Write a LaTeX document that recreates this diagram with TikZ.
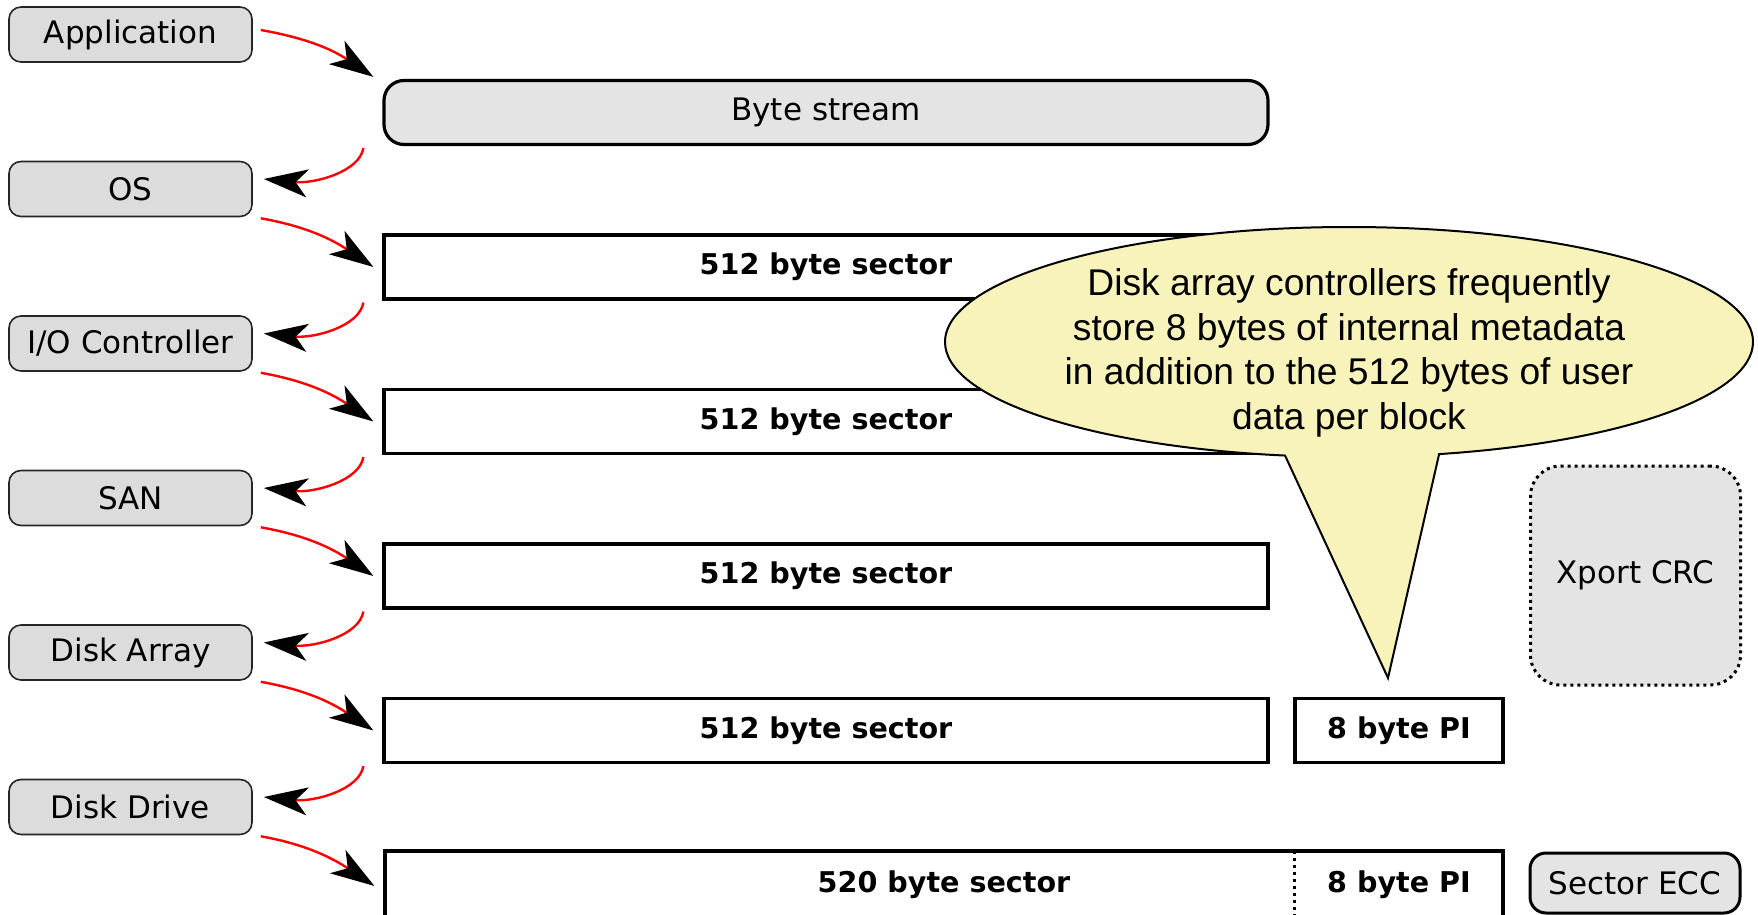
\documentclass[tikz,border=0pt]{standalone}
\usepackage{fontspec}
\setmainfont{DejaVu Sans}
\newfontfamily\notefont{Liberation Sans}
\usetikzlibrary{arrows.meta,shapes.callouts}

\definecolor{layergray}{RGB}{220,220,220}
\definecolor{streamgray}{RGB}{228,228,228}
\definecolor{noteyellow}{RGB}{248,243,186}

\begin{document}
\begin{tikzpicture}[x=0.5pt, y=-0.5pt,
    layer/.style={draw=black!85, line width=0.8pt, rounded corners=6pt, fill=layergray,
        minimum width=121.5pt, minimum height=27.5pt, inner sep=0pt,
        font=\fontsize{15.5}{18}\selectfont},
    sector/.style={draw, line width=1.6pt, fill=white, minimum width=442pt,
        minimum height=32pt, inner sep=0pt, font=\fontsize{14.3}{17}\selectfont\bfseries},
    stream/.style={sector, rounded corners=10pt, fill=streamgray,
        font=\fontsize{15.5}{18}\selectfont},
    pibox/.style={sector, minimum width=104pt},
    check/.style={draw, line width=1.5pt, fill=streamgray, minimum width=105pt,
        inner sep=0pt, font=\fontsize{15.5}{18}\selectfont},
    flow/.style={red, line width=1.2pt, -{Stealth[length=22pt, width=14pt, inset=6pt, color=black]}}]

    \useasboundingbox (0,0) rectangle (1758,915);
    \clip (0,0) rectangle (1758,915);

    \node[layer] (app) at (130.5,34.5) {Application};
    \node[layer] (os) at (130.5,189) {OS};
    \node[layer] (ioc) at (130.5,343.5) {I/O Controller};
    \node[layer] (san) at (130.5,498) {SAN};
    \node[layer] (darr) at (130.5,652.5) {Disk Array};
    \node[layer] (ddrv) at (130.5,807) {Disk Drive};

    \node[stream] (bytes) at (826,112.5) {Byte stream};
    \node[sector] (ossec) at (826,267) {512 byte sector};
    \node[sector] (iosec) at (826,421.5) {512 byte sector};
    \node[sector] (sansec) at (826,576) {512 byte sector};
    \node[sector] (dasec) at (826,730.5) {512 byte sector};
    \node[pibox] (dapi) at (1399,730.5) {8 byte PI};
    \node[sector, minimum width=559pt, minimum height=34pt] (ddsec) at (944,885) {520 byte sector};
    \node[font=\fontsize{14.3}{17}\selectfont\bfseries, minimum width=104pt, minimum height=34pt,
        inner sep=0pt] (ddpi) at (1399,885) {8 byte PI};
    \draw[dotted, line width=1.5pt] (ddpi.north west) -- (ddpi.south west);

    \node[check, dotted, rounded corners=15pt, minimum height=109.5pt] (xport) at (1635.5,575.5) {Xport CRC};
    \node[check, rounded corners=8pt, minimum height=30pt] (ecc) at (1635,883) {Sector ECC};

    \node[ellipse callout, draw, line width=1pt, fill=noteyellow, minimum width=404pt,
        minimum height=115pt, inner sep=0pt, callout absolute pointer={(1388,678)},
        callout pointer arc=22] (note) at (1349,342) {};
    \node[align=center, font=\notefont\fontsize{18.6}{22.3}\selectfont] (notetext) at (1349,353)
        {Disk array controllers frequently\\store 8 bytes of internal metadata\\in addition to the 512 bytes of user\\data per block};

    \draw[flow] ([shift={(8,-4.5)}]app.east) .. controls +(45,8) and +(-42,-28) .. ([shift={(-9,-2)}]bytes.north west);
    \draw[flow] ([shift={(-19,2)}]bytes.south west) .. controls +(-4,24) and +(50,5) .. ([shift={(11,-10)}]os.east);

    \draw[flow] ([shift={(8,1)}]os.south east) .. controls +(45,8) and +(-42,-28) .. ([shift={(-9,0)}]ossec.west);
    \draw[flow] ([shift={(-19,2)}]ossec.south west) .. controls +(-4,24) and +(50,5) .. ([shift={(11,-10)}]ioc.east);

    \draw[flow] ([shift={(8,1)}]ioc.south east) .. controls +(45,8) and +(-42,-28) .. ([shift={(-9,0)}]iosec.west);
    \draw[flow] ([shift={(-19,2)}]iosec.south west) .. controls +(-4,24) and +(50,5) .. ([shift={(11,-10)}]san.east);

    \draw[flow] ([shift={(8,1)}]san.south east) .. controls +(45,8) and +(-42,-28) .. ([shift={(-9,0)}]sansec.west);
    \draw[flow] ([shift={(-19,2)}]sansec.south west) .. controls +(-4,24) and +(50,5) .. ([shift={(11,-10)}]darr.east);

    \draw[flow] ([shift={(8,1)}]darr.south east) .. controls +(45,8) and +(-42,-28) .. ([shift={(-9,0)}]dasec.west);
    \draw[flow] ([shift={(-19,2)}]dasec.south west) .. controls +(-4,24) and +(50,5) .. ([shift={(11,-10)}]ddrv.east);

    \draw[flow] ([shift={(8,1)}]ddrv.south east) .. controls +(45,8) and +(-42,-28) .. ([shift={(-9,1)}]ddsec.west);
\end{tikzpicture}
\end{document}
